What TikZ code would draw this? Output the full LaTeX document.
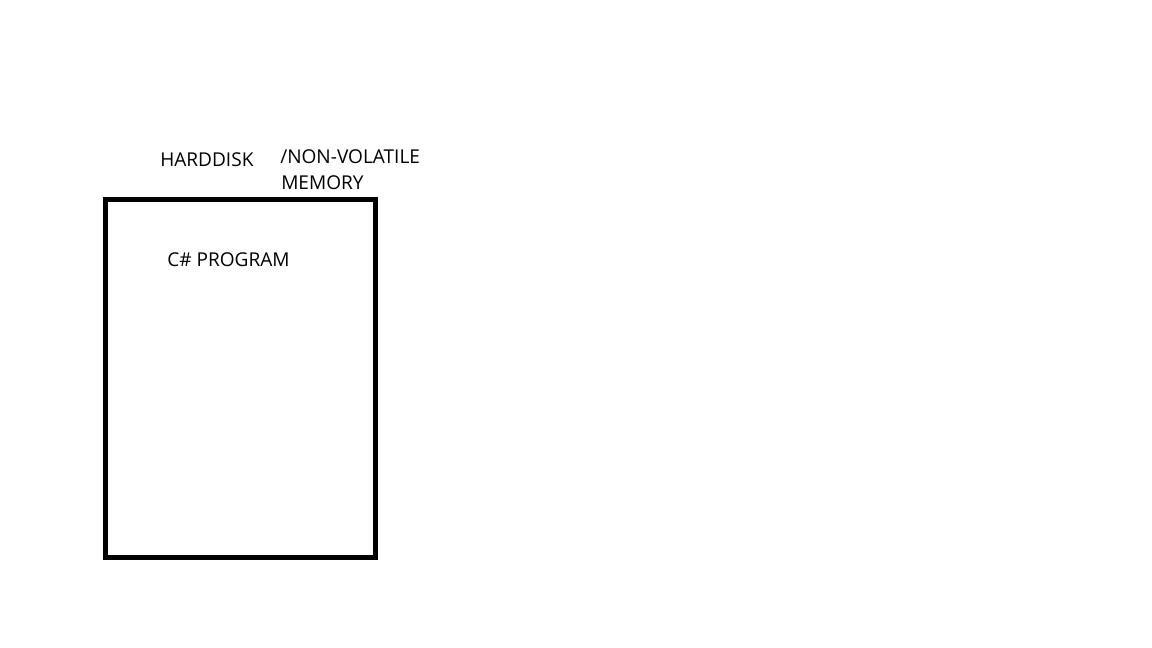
\documentclass[tikz,border=0pt]{standalone}
\usepackage{fontspec}
\setmainfont{Open Sans}
\begin{document}
\begin{tikzpicture}[x=0.75pt,y=-0.75pt,
  lbl/.style={anchor=base west,inner sep=0pt,font=\fontsize{14.3pt}{17pt}\selectfont}]
\useasboundingbox[fill=white] (0,0) rectangle (1152,648);
\node[draw,line width=3.5pt,minimum width=270*0.75pt,minimum height=358*0.75pt,inner sep=0pt,outer sep=0pt,anchor=north west] (box) at (105.5,199.5) {};
\node[lbl] (hd) at (160,166.5) {HARDDISK};
\node[lbl] (nv) at (280,163.5) {/NON-VOLATILE};
\node[lbl] (mem) at (281,189.5) {MEMORY};
\node[lbl] (prog) at (167,266.5) {C\# PROGRAM};
\end{tikzpicture}
\end{document}
